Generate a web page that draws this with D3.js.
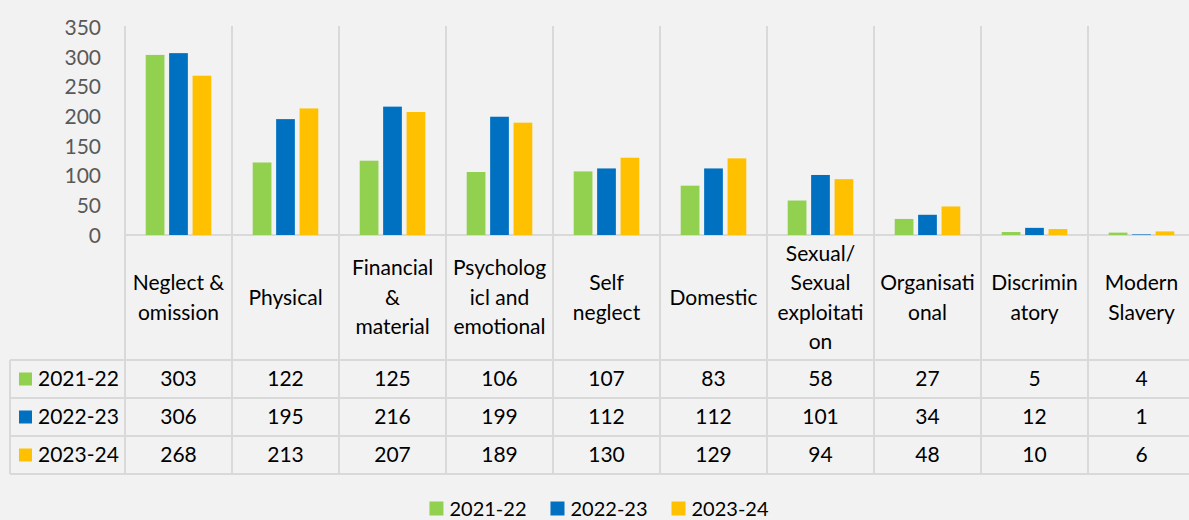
<!DOCTYPE html>
<html>
<head>
<meta charset="utf-8">
<script src="https://cdn.jsdelivr.net/npm/d3@7"></script>
<style>
  html, body { margin: 0; padding: 0; background: #f2f2f2; }
  svg { display: block; }
  text { font-family: Lato, "Liberation Sans", sans-serif; }
</style>
</head>
<body>
<svg id="chart" width="1189" height="520"></svg>
<script>
// ---- data ----
const categories = ["Neglect & omission", "Physical", "Financial & material", "Psychologicl and emotional",
  "Self neglect", "Domestic", "Sexual/ Sexual exploitation", "Organisational", "Discriminatory", "Modern Slavery"];
const categoryLines = [
  ["Neglect &", "omission"], ["Physical"], ["Financial", "&", "material"], ["Psycholog", "icl and", "emotional"],
  ["Self", "neglect"], ["Domestic"], ["Sexual/", "Sexual", "exploitati", "on"], ["Organisati", "onal"],
  ["Discrimin", "atory"], ["Modern", "Slavery"]
];
const seriesNames = ["2021-22", "2022-23", "2023-24"];
const values2021 = [303, 122, 125, 106, 107, 83, 58, 27, 5, 4];
const values2022 = [306, 195, 216, 199, 112, 112, 101, 34, 12, 1];
const values2023 = [268, 213, 207, 189, 130, 129, 94, 48, 10, 6];
const seriesColors = ["#92d050", "#0070c0", "#ffc000"];
const yTicks = [0, 50, 100, 150, 200, 250, 300, 350];

const seriesValues = [values2021, values2022, values2023];

// ---- layout ----
const svg = d3.select("#chart");
const plotLeft = 125, step = 107;
const plotRight = plotLeft + step * categories.length;
const plotTop = 26, zeroY = 235;
const tableTop = 360, rowH = 38, tableLeft = 10;
const tableBottom = tableTop + rowH * seriesNames.length;
const gridColor = "#d9d9d9";
const fontSize = 21;

const x0 = d3.scaleBand().domain(categories).range([plotLeft, plotRight]).paddingInner(0).paddingOuter(0);
const x1 = d3.scaleBand().domain(seriesNames).range([20.7, step - 20.7]).paddingInner(0.2);
const y = d3.scaleLinear().domain([0, 350]).range([zeroY, plotTop + 1]);

// y axis labels
const yAxis = d3.axisLeft(y).tickValues(yTicks).tickSize(0).tickPadding(0);
const yg = svg.append("g").attr("transform", "translate(101,0)").call(yAxis);
yg.select(".domain").remove();
yg.selectAll("text").attr("fill", "#595959").style("font-size", fontSize + "px")
  .style("font-family", "Lato, 'Liberation Sans', sans-serif").attr("dy", "0.35em");

// vertical grid lines (category separators) spanning plot + table
const sepXs = categories.map(c => x0(c)).concat([plotRight]);
svg.append("g").selectAll("line").data(sepXs).join("line")
  .attr("x1", d => d).attr("x2", d => d)
  .attr("y1", plotTop).attr("y2", tableBottom)
  .attr("stroke", gridColor).attr("stroke-width", 2);

// horizontal axis line
svg.append("line").attr("x1", plotLeft).attr("x2", plotRight).attr("y1", zeroY).attr("y2", zeroY)
  .attr("stroke", gridColor).attr("stroke-width", 2);

// table horizontal lines
const rowLines = d3.range(seriesNames.length + 1).map(i => tableTop + i * rowH);
svg.append("g").selectAll("line").data(rowLines).join("line")
  .attr("x1", tableLeft).attr("x2", plotRight)
  .attr("y1", d => d).attr("y2", d => d)
  .attr("stroke", gridColor).attr("stroke-width", 2);
svg.append("line").attr("x1", tableLeft).attr("x2", tableLeft).attr("y1", tableTop).attr("y2", tableBottom)
  .attr("stroke", gridColor).attr("stroke-width", 2);

// bars
const groups = svg.append("g").selectAll("g").data(categories).join("g")
  .attr("transform", d => `translate(${x0(d)},0)`);
groups.selectAll("rect").data((c, ci) => seriesNames.map((s, si) => ({ s, si, v: seriesValues[si][ci] })))
  .join("rect")
  .attr("x", d => x1(d.s)).attr("width", x1.bandwidth())
  .attr("y", d => y(d.v)).attr("height", d => y(0) - y(d.v))
  .attr("fill", d => seriesColors[d.si]);

// category labels
const lineH = 29.4, labelCenter = 297.5;
const catText = svg.append("g").selectAll("text").data(categories).join("text")
  .attr("x", d => x0(d) + step / 2).attr("text-anchor", "middle")
  .style("font-size", fontSize + "px").attr("fill", "#000");
catText.each(function (d, i) {
  const lines = categoryLines[i];
  const start = labelCenter - (lines.length - 1) * lineH / 2;
  d3.select(this).selectAll("tspan").data(lines).join("tspan")
    .attr("x", x0(d) + step / 2).attr("y", (l, j) => start + j * lineH).attr("dy", "0.35em").text(l => l);
});

// table rows
seriesNames.forEach((s, si) => {
  const cy = tableTop + si * rowH + rowH / 2;
  svg.append("rect").attr("x", 19).attr("y", cy - 6.5).attr("width", 13).attr("height", 13).attr("fill", seriesColors[si]);
  svg.append("text").attr("x", 38).attr("y", cy).attr("dy", "0.35em").style("font-size", fontSize + "px")
    .attr("fill", "#000").text(s);
  svg.append("g").selectAll("text").data(categories).join("text")
    .attr("x", d => x0(d) + step / 2).attr("y", cy).attr("dy", "0.35em").attr("text-anchor", "middle")
    .style("font-size", fontSize + "px").attr("fill", "#000")
    .text((d, ci) => seriesValues[si][ci]);
});

// bottom legend
const legY = 508.5, legCenter = 599, sq = 14, sqGap = 6, itemGap = 24;
const leg = svg.append("g");
const items = leg.selectAll("g").data(seriesNames).join("g");
items.append("rect").attr("width", sq).attr("height", sq).attr("y", -sq / 2).attr("fill", (d, i) => seriesColors[i]);
items.append("text").attr("x", sq + sqGap).attr("dy", "0.35em").style("font-size", "20px").attr("fill", "#000").text(d => d);
const widths = [];
items.each(function () { widths.push(sq + sqGap + this.querySelector("text").getComputedTextLength()); });
const total = d3.sum(widths) + itemGap * (widths.length - 1);
let cx = legCenter - total / 2;
items.each(function (d, i) { d3.select(this).attr("transform", `translate(${cx},${legY})`); cx += widths[i] + itemGap; });
</script>
</body>
</html>
